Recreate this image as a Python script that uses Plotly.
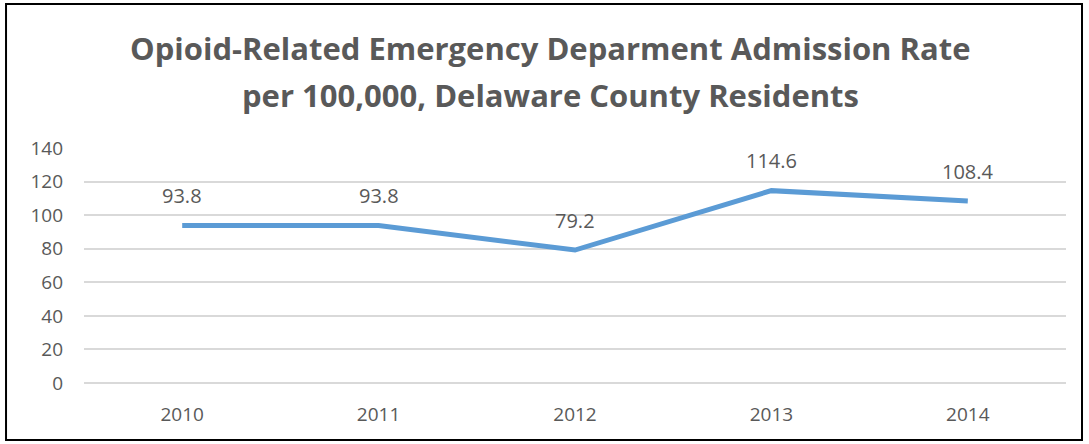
import plotly.graph_objects as go

years = ["2010", "2011", "2012", "2013", "2014"]
rates = [93.8, 93.8, 79.2, 114.6, 108.4]
y_ticks = [0, 20, 40, 60, 80, 100, 120, 140]
title_lines = ["Opioid-Related Emergency Deparment Admission Rate",
               "per 100,000, Delaware County Residents"]

grey = "#595959"
font = "Open Sans"

fig = go.Figure()
fig.add_trace(go.Scatter(
    x=years,
    y=rates,
    mode="lines",
    line=dict(color="#5B9BD5", width=5),
    hoverinfo="x+y",
))

# data labels sit above each point (x by category index, "2010" would be read as a number)
for i, v in enumerate(rates):
    fig.add_annotation(x=i, y=v, text=f"{v:.1f}", showarrow=False,
                       yshift=30, font=dict(family=font, size=20, color=grey))

# two-line title, placed by hand to match the spacing
for txt, yp in zip(title_lines, [1.4255, 1.2255]):
    fig.add_annotation(xref="paper", yref="paper", x=0.475, y=yp, text=f"<b>{txt}</b>",
                       showarrow=False, xanchor="center", yanchor="middle",
                       font=dict(family=font, size=31, color=grey))

# outer chart border
fig.add_shape(type="rect", xref="paper", yref="paper",
              x0=-0.0794, x1=1.0163, y0=-0.2426, y1=1.6128,
              line=dict(color="black", width=2), layer="above")

fig.update_layout(
    width=1089, height=444,
    margin=dict(l=84, r=23, t=148, b=61),
    paper_bgcolor="white", plot_bgcolor="white",
    showlegend=False,
    xaxis=dict(type="category", showgrid=False, showline=False, zeroline=False,
               ticks="", ticklabelstandoff=18, range=[-0.5, 4.5],
               tickfont=dict(family=font, size=19, color=grey)),
    yaxis=dict(range=[0, 140], tickvals=y_ticks, showgrid=True, gridcolor="#d9d9d9",
               gridwidth=1.6, zeroline=True, zerolinecolor="#d9d9d9", zerolinewidth=1.6,
               showline=False, ticks="", ticklabelstandoff=20,
               tickfont=dict(family=font, size=19, color=grey)),
)

fig.write_html("out.html", config={"displayModeBar": False},
               post_script="document.body.style.margin='0';")
